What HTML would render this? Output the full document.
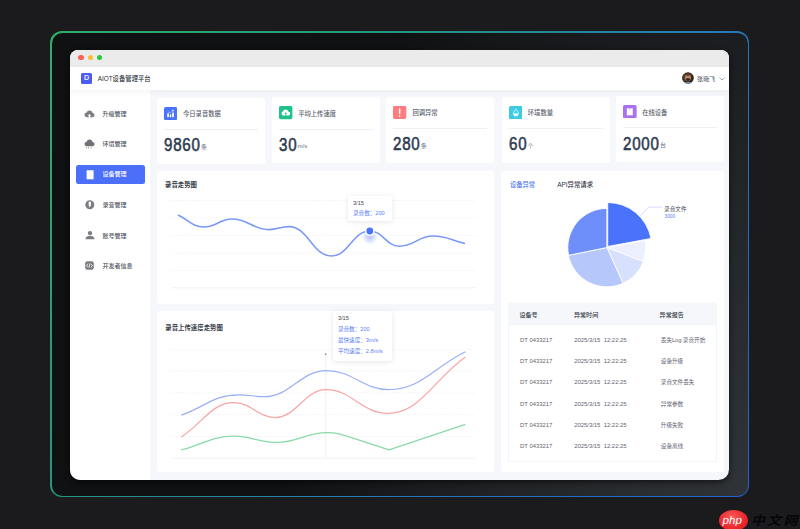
<!DOCTYPE html>
<html><head><meta charset="utf-8">
<style>
*{margin:0;padding:0;box-sizing:border-box}
html,body{width:800px;height:529px;overflow:hidden;background:#1b1b1d}
body{font-family:"Liberation Sans","Noto Sans CJK SC",sans-serif;color:#333}
.a{position:absolute}
#root{position:relative;width:800px;height:529px;background:#1b1b1d;overflow:hidden}
#frame{left:50px;top:31px;width:699px;height:466px;border-radius:12px;
 background:linear-gradient(127deg,#2fae6c 0%,#24977f 33%,#2677ba 67%,#2462cf 100%)}
#frameIn{left:1.5px;top:1.5px;right:1.5px;bottom:1.5px;border-radius:10.5px;
 background:radial-gradient(ellipse 470px 680px at 100% 100%,#303337 0%,#26292c 35%,#1a1c1f 70%,#101113 100%)}
#win{left:70.3px;top:49.5px;width:659.1px;height:430px;border-radius:8px 8px 10.5px 10.5px;background:#f5f7fa;overflow:hidden;
 box-shadow:0 2px 6px rgba(0,0,0,.6)}
#tbar{left:0;top:0;width:100%;height:17px;background:#ebebec}
.dot{width:5.4px;height:5.4px;border-radius:50%;top:5.6px}
#hdr{left:0;top:17px;width:100%;height:23px;background:#fff;z-index:2;box-shadow:0 1.5px 6px rgba(30,40,60,.05)}
#side{left:0;top:40px;width:79.3px;height:390px;background:#fff}
.card{background:#fff;border-radius:3px}
.sb{color:#50555f;font-weight:500}
.t6.ct{color:#5c626e;font-weight:500;font-size:6.3px}
.num{font-size:18px;font-weight:normal;color:#2d3a4f;-webkit-text-stroke:.55px #2d3a4f;line-height:1;white-space:nowrap;transform:scaleX(.84);transform-origin:0 0;letter-spacing:.9px}
.unit{font-size:6.1px;font-weight:normal;color:#6a707b;-webkit-text-stroke:0;margin-left:.6px;letter-spacing:0;display:inline-block;transform:scaleX(1.19);transform-origin:0 100%;position:relative;top:-2.6px}
.ttl{color:#363c48;font-weight:bold}
.t6.ttl{font-size:6.4px}
.tip{background:#fff;border-radius:2px;box-shadow:0 1px 5px rgba(40,50,80,.12)}
.t55{font-size:5.6px;line-height:1;white-space:nowrap}
.th{color:#30353e;font-weight:500}
.td{font-size:5.9px;line-height:1;white-space:nowrap;color:#5f6570}
.td.c3{font-size:5.6px}
.t6{font-size:6.05px;line-height:1;white-space:nowrap}
</style></head>
<body><div id="root">
<div id="frame" class="a"><div id="frameIn" class="a"></div></div>
<div id="win" class="a">
  <div id="tbar" class="a">
    <div class="a dot" style="left:8.1px;background:#fe5f57"></div>
    <div class="a dot" style="left:17.7px;background:#febc2e"></div>
    <div class="a dot" style="left:26.8px;background:#28c840"></div>
  </div>
  <div id="hdr" class="a">
    <div class="a" style="left:10.8px;top:6.6px;width:10.8px;height:10.8px;border-radius:1.5px;background:#4a5cf2;color:#fff;font-weight:normal;-webkit-text-stroke:.2px #fff;font-size:7px;line-height:10.8px;text-align:center">D</div>
    <div class="a t6" style="left:27.5px;top:9.3px;color:#2a2f38;font-weight:500;font-size:6.35px">AIOT设备管理平台</div>
    <svg class="a" style="left:612px;top:5px" width="12" height="12" viewBox="0 0 12 12"><defs><clipPath id="av"><circle cx="6" cy="6" r="5.8"/></clipPath></defs><g clip-path="url(#av)"><rect width="12" height="12" fill="#2e2822"/><ellipse cx="2" cy="6" rx="2" ry="4" fill="#4a4028"/><ellipse cx="6.2" cy="11.5" rx="4" ry="1.8" fill="#7a86a8"/><ellipse cx="6" cy="5.4" rx="3" ry="3.6" fill="#c08566"/><ellipse cx="6" cy="7.6" rx="2.2" ry="1.3" fill="#3a2016"/><ellipse cx="6" cy="2.6" rx="3.2" ry="1.2" fill="#5a3a28"/></g></svg>
    <div class="a t6" style="left:626.8px;top:9.2px;color:#5a6171;font-weight:500">张晓飞</div>
    <svg class="a" style="left:648.5px;top:10.3px" width="6" height="4" viewBox="0 0 6 4"><path d="M0.6 0.7 L3 3 L5.4 0.7" fill="none" stroke="#8a92a0" stroke-width="0.8"/></svg>
  </div>
  <div id="side" class="a"></div>
</div>

<!-- sidebar -->
<div class="a" style="left:75.6px;top:164.8px;width:69.6px;height:19.4px;border-radius:2.5px;background:#4b6ff8"></div>
<svg class="a" style="left:84px;top:109px" width="11" height="10" viewBox="0 0 11 10"><path d="M3 8.2 H8.3 A2.1 2.1 0 0 0 8.6 4 A3.1 3.1 0 0 0 2.6 3.6 A2.3 2.3 0 0 0 3 8.2 Z" fill="#7b7d82"/><path d="M5.5 4.9 L7.3 6.8 H6.3 V8.4 H4.7 V6.8 H3.7 Z" fill="#fff"/></svg>
<svg class="a" style="left:84px;top:138.5px" width="11" height="10" viewBox="0 0 11 10"><path d="M3 7.3 H8.3 A2.1 2.1 0 0 0 8.6 3.1 A3.1 3.1 0 0 0 2.6 2.7 A2.3 2.3 0 0 0 3 7.3 Z" fill="#6f7176"/><circle cx="2.4" cy="8.8" r=".55" fill="#6f7176"/><circle cx="4.5" cy="8.8" r=".55" fill="#6f7176"/><circle cx="7.2" cy="8.8" r=".55" fill="#6f7176"/></svg>
<svg class="a" style="left:85.5px;top:169.5px" width="9" height="10" viewBox="0 0 9 10"><path d="M0.6 0.3 H7.6 V9.3 H0.6 Z" fill="#fff"/><path d="M2.8 0.3 V1.6 H5.4 V0.3" fill="#dfe6ff"/></svg>
<svg class="a" style="left:84.5px;top:199.8px" width="10" height="10" viewBox="0 0 10 10"><circle cx="4.8" cy="4.7" r="4.5" fill="#7b7d82"/><path d="M4.8 1.6 C6 1.6 6 3 6 4 C6 5.6 5.2 6.4 4.8 7.8 C4.4 6.4 3.6 5.6 3.6 4 C3.6 3 3.6 1.6 4.8 1.6 Z" fill="#fff"/></svg>
<svg class="a" style="left:84.5px;top:229.5px" width="10" height="10" viewBox="0 0 10 10"><circle cx="5" cy="3.1" r="2.2" fill="#7b7d82"/><path d="M0.4 9.3 C0.6 6.9 2.6 5.8 5 5.8 C7.4 5.8 9.4 6.9 9.6 9.3 Z" fill="#7b7d82"/></svg>
<svg class="a" style="left:84.9px;top:260.6px" width="9" height="9" viewBox="0 0 9 9"><rect x=".2" y=".2" width="8.6" height="8.6" rx="2" fill="#7b7d82"/><path d="M3 2.8 L1.6 4.5 L3 6.2 M6 2.8 L7.4 4.5 L6 6.2 M5 2.5 L4 6.5" stroke="#fff" stroke-width=".8" fill="none"/></svg>
<div class="a t6 sb" style="left:102.4px;top:111px">升级管理</div>
<div class="a t6 sb" style="left:102.4px;top:141px">环境管理</div>
<div class="a t6 sb" style="left:102.4px;top:171.4px;color:#fff">设备管理</div>
<div class="a t6 sb" style="left:102.4px;top:202px">录音管理</div>
<div class="a t6 sb" style="left:102.4px;top:232.6px">账号管理</div>
<div class="a t6 sb" style="left:102.4px;top:263px">开发者信息</div>

<!-- stat cards -->
<div class="a card" style="left:156.8px;top:97.5px;width:108px;height:66px">
 <div class="a" style="left:7.2px;top:9.1px;width:14px;height:14px"><svg class="a" style="left:0;top:0" width="13.2" height="13.2" viewBox="0 0 13.2 13.2"><rect width="13.2" height="13.2" rx="1.6" fill="#4a74fa"/><rect x="3.2" y="6.4" width="1.7" height="3.8" fill="#fff"/><rect x="5.8" y="7.4" width="1.5" height="2.8" fill="#fff"/><rect x="8.2" y="5.6" width="1.7" height="4.6" fill="#fff"/><path d="M3.6 5 L6.4 5.6 L9.1 3.6" stroke="#fff" stroke-width=".6" fill="none" opacity=".8"/><circle cx="9" cy="3.6" r=".8" fill="#fff"/></svg></div>
 <div class="a t6 ct" style="left:26.2px;top:13.6px">今日录音数据</div>
 <div class="a" style="left:7px;right:7px;top:31.3px;height:1px;background:#eef0f5"></div>
 <div class="a num" style="left:7.2px;top:38.7px">9860<span class="unit">条</span></div>
</div>
<div class="a card" style="left:272.0px;top:97.3px;width:108px;height:66px">
 <div class="a" style="left:7.2px;top:9.1px;width:14px;height:14px"><svg class="a" style="left:0;top:0" width="13.4" height="13.2" viewBox="0 0 13.4 13.2"><rect width="13.4" height="13.2" rx="1.6" fill="#20c08c"/><path d="M4.4 9.4 H9.3 A1.8 1.8 0 0 0 9.5 5.8 A2.9 2.9 0 0 0 3.9 5.5 A2 2 0 0 0 4.4 9.4 Z" fill="#fff"/><path d="M6.7 9.6 V6.8 M5.7 7.7 L6.7 6.7 L7.7 7.7" stroke="#20c08c" stroke-width=".9" fill="none"/></svg></div>
 <div class="a t6 ct" style="left:26.2px;top:13.6px">平均上传速度</div>
 <div class="a" style="left:7px;right:7px;top:31.3px;height:1px;background:#eef0f5"></div>
 <div class="a num" style="left:7.2px;top:38.7px">30<span class="unit">m/s</span></div>
</div>
<div class="a card" style="left:386.2px;top:96.7px;width:108px;height:66px">
 <div class="a" style="left:7.2px;top:9.1px;width:14px;height:14px"><svg class="a" style="left:0;top:0" width="13.3" height="13" viewBox="0 0 13.3 13"><rect width="13.3" height="13" rx="1.4" fill="#ff7b7f"/><rect x="5.9" y="2.2" width="1.5" height="6" rx=".6" fill="#fff"/><rect x="5.9" y="9.2" width="1.5" height="1.5" rx=".5" fill="#fff"/></svg></div>
 <div class="a t6 ct" style="left:26.2px;top:13.6px">回调异常</div>
 <div class="a" style="left:7px;right:7px;top:31.3px;height:1px;background:#eef0f5"></div>
 <div class="a num" style="left:7.2px;top:38.7px">280<span class="unit">条</span></div>
</div>
<div class="a card" style="left:501.6px;top:96.5px;width:108px;height:66px">
 <div class="a" style="left:7.2px;top:9.1px;width:14px;height:14px"><svg class="a" style="left:0;top:0" width="13.7" height="13.3" viewBox="0 0 13.7 13.3"><rect width="13.7" height="13.3" rx="1.6" fill="#3dcae2"/><path d="M6.85 3.2 C5.6 4.8 4.4 6 4.4 7.6 A2.45 2.45 0 0 0 9.3 7.6 C9.3 6 8.1 4.8 6.85 3.2 Z" fill="none" stroke="#fff" stroke-width=".8"/><path d="M4.6 7.6 H9.1 A2.25 2.25 0 0 1 4.6 7.6 Z" fill="#fff"/></svg></div>
 <div class="a t6 ct" style="left:26.2px;top:13.6px">环境数量</div>
 <div class="a" style="left:7px;right:7px;top:31.3px;height:1px;background:#eef0f5"></div>
 <div class="a num" style="left:7.2px;top:38.7px">60<span class="unit">个</span></div>
</div>
<div class="a card" style="left:616.0px;top:96.1px;width:108px;height:66px">
 <div class="a" style="left:7.2px;top:9.1px;width:14px;height:14px"><svg class="a" style="left:0;top:0" width="13.6" height="13.3" viewBox="0 0 13.6 13.3"><rect width="13.6" height="13.3" rx="1.6" fill="#a872f0"/><rect x="3.8" y="3.3" width="6" height="7" fill="#fff"/><path d="M5.6 3.3 L6.8 4.4 L8 3.3" stroke="#a872f0" stroke-width=".5" fill="none"/></svg></div>
 <div class="a t6 ct" style="left:26.2px;top:13.6px">在线设备</div>
 <div class="a" style="left:7px;right:7px;top:31.3px;height:1px;background:#eef0f5"></div>
 <div class="a num" style="left:7.2px;top:38.7px">2000<span class="unit">台</span></div>
</div>

<!-- chart cards -->
<div class="a card" style="left:156.8px;top:170.5px;width:337.2px;height:133px"></div>
<div class="a card" style="left:156.8px;top:311.2px;width:337.2px;height:160.8px"></div>
<div class="a card" style="left:501px;top:171px;width:223px;height:301px"></div>
<div class="a t6 ttl" style="left:165px;top:181.6px">录音走势图</div>
<div class="a t6 ttl" style="left:165.3px;top:324.6px">录音上传速度走势图</div>
<svg class="a" style="left:0;top:0" width="800" height="529" viewBox="0 0 800 529">
<defs><radialGradient id="glow" cx="50%" cy="50%" r="50%"><stop offset="0" stop-color="#5b7cf8" stop-opacity=".45"/><stop offset="1" stop-color="#5b7cf8" stop-opacity="0"/></radialGradient></defs>
<line x1="171.4" y1="200.4" x2="476" y2="200.4" stroke="#f0f1f4" stroke-width=".8" stroke-dasharray="1.4 .9"/>
<line x1="171.4" y1="217.9" x2="476" y2="217.9" stroke="#f0f1f4" stroke-width=".8" stroke-dasharray="1.4 .9"/>
<line x1="171.4" y1="235.4" x2="476" y2="235.4" stroke="#f0f1f4" stroke-width=".8" stroke-dasharray="1.4 .9"/>
<line x1="171.4" y1="252.9" x2="476" y2="252.9" stroke="#f0f1f4" stroke-width=".8" stroke-dasharray="1.4 .9"/>
<line x1="171.4" y1="270.4" x2="476" y2="270.4" stroke="#f0f1f4" stroke-width=".8" stroke-dasharray="1.4 .9"/>
<line x1="171.4" y1="287.8" x2="476" y2="287.8" stroke="#eff0f3" stroke-width=".9"/>
<line x1="171" y1="349.5" x2="475" y2="349.5" stroke="#f0f1f4" stroke-width=".8" stroke-dasharray="1.4 .9"/>
<line x1="171" y1="371.2" x2="475" y2="371.2" stroke="#f0f1f4" stroke-width=".8" stroke-dasharray="1.4 .9"/>
<line x1="171" y1="392.9" x2="475" y2="392.9" stroke="#f0f1f4" stroke-width=".8" stroke-dasharray="1.4 .9"/>
<line x1="171" y1="414.7" x2="475" y2="414.7" stroke="#f0f1f4" stroke-width=".8" stroke-dasharray="1.4 .9"/>
<line x1="171" y1="436.5" x2="475" y2="436.5" stroke="#f0f1f4" stroke-width=".8" stroke-dasharray="1.4 .9"/>
<line x1="171" y1="458.2" x2="475" y2="458.2" stroke="#eff0f3" stroke-width=".9"/>
<line x1="325.7" y1="354.5" x2="325.7" y2="458" stroke="#c9ccd3" stroke-width=".6" stroke-dasharray="1.2 1.2"/>
<circle cx="325.7" cy="354.2" r=".9" fill="#8e939c"/>
<path d="M178.0 215.0 C189.7 220.4 192.3 227.0 204.0 227.0 C216.6 227.0 219.4 219.0 232.0 219.0 C248.7 219.0 252.3 229.6 269.0 229.6 C278.0 229.6 280.0 226.6 289.0 226.6 C308.1 226.6 312.3 256.0 331.4 256.0 C348.7 256.0 352.5 231.0 369.8 231.0 C383.1 231.0 386.1 246.2 399.4 246.2 C414.5 246.2 417.9 236.0 433.0 236.0 C447.4 236.0 450.6 240.2 465.0 243.6" fill="none" stroke="#7b97f8" stroke-width="1.55"/>
<ellipse cx="369.8" cy="237" rx="8" ry="7.5" fill="url(#glow)"/>
<circle cx="369.8" cy="231" r="4.9" fill="#fff"/><circle cx="369.8" cy="231" r="3.4" fill="#4a74f8"/>
<path d="M181.3 415.2 C205.4 406.6 214.5 394.8 238.6 394.8 C249.5 394.8 253.7 396.7 264.6 396.7 C290.6 396.7 300.5 370.5 326.5 370.5 C352.6 370.5 362.5 389.6 388.6 389.6 C420.9 389.6 433.1 367.7 465.4 351.8" fill="none" stroke="#9ab0f9" stroke-width="1.25"/>
<path d="M181.3 436.9 C203.4 422.5 211.8 402.6 233.8 402.6 C251.2 402.6 257.8 417.5 275.2 417.5 C296.5 417.5 304.7 389.6 326.0 389.6 C351.8 389.6 361.6 413.3 387.4 413.3 C420.2 413.3 432.6 380.6 465.4 357.0" fill="none" stroke="#f8a6a6" stroke-width="1.25"/>
<path d="M181.3 449.9 C203.4 444.1 211.8 436.2 233.8 436.2 C251.7 436.2 258.5 442.4 276.4 442.4 C297.7 442.4 305.7 432.7 327.0 432.7 C336.7 432.7 340.3 434.0 350.0 437.2 L389 449.9 L465.4 424.4" fill="none" stroke="#8ad9a8" stroke-width="1.25" stroke-linejoin="round"/>
</svg>

<div class="a tip" style="left:348.2px;top:195.7px;width:43.8px;height:25.5px">
 <div class="a t55" style="left:4.8px;top:5.2px;color:#3a3f48">3/15</div>
 <div class="a t55" style="left:4.8px;top:15.3px;color:#5a7ef6">录音数：200</div>
</div>
<div class="a tip" style="left:332.9px;top:310.9px;width:58.7px;height:50.2px">
 <div class="a t55" style="left:5px;top:5.3px;color:#3a3f48">3/15</div>
 <div class="a t55" style="left:5px;top:16.2px;color:#5a7ef6">录音数：200</div>
 <div class="a t55" style="left:5px;top:27.2px;color:#5a7ef6">最快速度：3m/s</div>
 <div class="a t55" style="left:5px;top:38.1px;color:#5a7ef6">平均速度：2.8m/s</div>
</div>
<svg class="a" style="left:0;top:0" width="800" height="529" viewBox="0 0 800 529">
<path d="M606.90 247.50 L645.05 240.43 A38.8 38.8 0 0 1 643.05 261.59 Z" fill="#ebeffe" stroke="#fff" stroke-width=".9" stroke-linejoin="round"/>
<path d="M606.90 247.50 L643.42 261.74 A39.2 39.2 0 0 1 623.03 283.23 Z" fill="#d7e0fd" stroke="#fff" stroke-width=".9" stroke-linejoin="round"/>
<path d="M606.90 247.50 L623.07 283.32 A39.3 39.3 0 0 1 568.40 255.40 Z" fill="#b6c7fc" stroke="#fff" stroke-width=".9" stroke-linejoin="round"/>
<path d="M606.90 247.50 L568.60 255.36 A39.1 39.1 0 0 1 606.90 208.40 Z" fill="#6e8ff9" stroke="#fff" stroke-width=".9" stroke-linejoin="round"/>
<path d="M607.73 246.50 L607.73 202.50 A44 44 0 0 1 650.99 238.48 Z" fill="#4a73fb" stroke="#fff" stroke-width=".9" stroke-linejoin="round"/>
<path d="M640.5 215.6 L648.4 207.2 L662.4 207.2" fill="none" stroke="#b9c8fb" stroke-width=".6"/>
<rect x="508.5" y="303.3" width="208.1" height="158.4" fill="none" stroke="#f2f3f7" stroke-width=".8"/>
<rect x="508.9" y="303.7" width="207.3" height="21.7" fill="#f5f7fb"/>
</svg>

<div class="a t6" style="left:510px;top:181.8px;color:#4a74f8;font-weight:500;font-size:6.25px">设备异常</div>
<div class="a t6 ttl" style="left:557.2px;top:182px;font-weight:500;color:#2a2f38">API异常请求</div>
<div class="a t55" style="left:664.1px;top:206.5px;color:#444a54">录音文件</div>
<div class="a" style="left:664.5px;top:215.1px;font-size:4.8px;line-height:1;color:#5a7ef6">3000</div>
<div class="a t6 th" style="left:519.5px;top:312.3px">设备号</div><div class="a t6 th" style="left:574px;top:312.3px">异常时间</div><div class="a t6 th" style="left:659.6px;top:312.3px">异常报告</div>
<div class="a td" style="left:520px;top:337.6px">DT 0433217</div><div class="a td" style="left:574.2px;top:337.6px">2025/3/15&nbsp;&nbsp;12:22:25</div><div class="a td c3" style="left:660.8px;top:337.8px">丢失Log:录音开始</div>
<div class="a td" style="left:520px;top:359.0px">DT 0433217</div><div class="a td" style="left:574.2px;top:359.0px">2025/3/15&nbsp;&nbsp;12:22:25</div><div class="a td c3" style="left:660.8px;top:359.1px">设备升级</div>
<div class="a td" style="left:520px;top:380.3px">DT 0433217</div><div class="a td" style="left:574.2px;top:380.3px">2025/3/15&nbsp;&nbsp;12:22:25</div><div class="a td c3" style="left:660.8px;top:380.4px">录音文件丢失</div>
<div class="a td" style="left:520px;top:401.5px">DT 0433217</div><div class="a td" style="left:574.2px;top:401.5px">2025/3/15&nbsp;&nbsp;12:22:25</div><div class="a td c3" style="left:660.8px;top:401.6px">异常参数</div>
<div class="a td" style="left:520px;top:422.8px">DT 0433217</div><div class="a td" style="left:574.2px;top:422.8px">2025/3/15&nbsp;&nbsp;12:22:25</div><div class="a td c3" style="left:660.8px;top:422.9px">升级失败</div>
<div class="a td" style="left:520px;top:444.1px">DT 0433217</div><div class="a td" style="left:574.2px;top:444.1px">2025/3/15&nbsp;&nbsp;12:22:25</div><div class="a td c3" style="left:660.8px;top:444.2px">设备离线</div>

<!-- watermark -->
<div class="a" style="left:718.7px;top:509.6px;width:29.4px;height:21px;border-radius:50%;background:radial-gradient(ellipse at 45% 35%,#ff5a5a 0%,#e8262b 60%,#c9171c 100%)"></div>
<div class="a" style="left:722.4px;top:513.6px;font-size:11.6px;line-height:1;color:#fff;font-style:italic;font-family:'Liberation Sans',sans-serif;letter-spacing:.15px">php</div>
<div class="a" style="left:751px;top:512.6px;font-size:14px;line-height:1;color:#060606;font-style:italic;font-family:'Liberation Sans','Noto Sans CJK SC',sans-serif;letter-spacing:2.2px;font-weight:bold;transform:scaleY(.9);transform-origin:0 100%">中文网</div>
</div></body></html>
